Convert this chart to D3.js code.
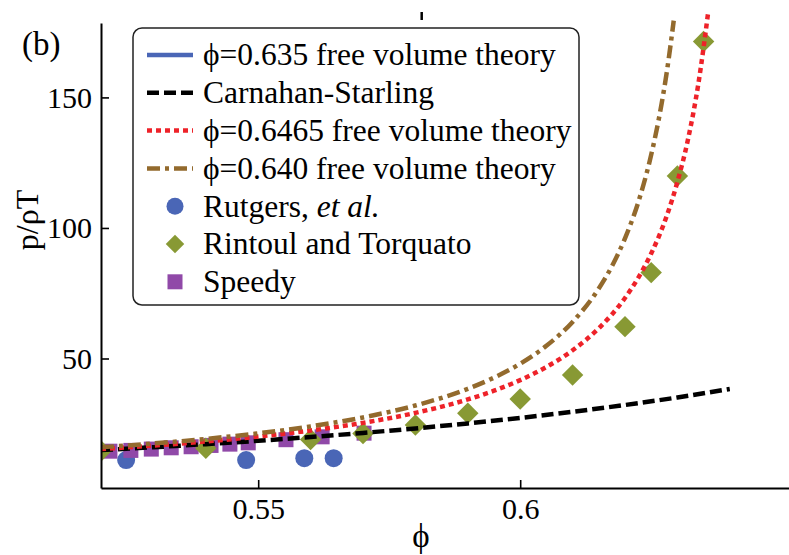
<!DOCTYPE html>
<html>
<head>
<meta charset="utf-8">
<script src="https://cdn.jsdelivr.net/npm/d3@7"></script>
<style>
  html, body { margin: 0; padding: 0; background: #fff; }
  svg { display: block; }
  text { font-family: "Liberation Serif", "DejaVu Serif", serif; fill: #000; }
</style>
</head>
<body>
<svg id="chart" width="789" height="555"></svg>
<script>
// ---------------- DATA ----------------
const xTicks = [0.55, 0.6];
const xTickLabels = ["0.55", "0.6"];
const yTicks = [50, 100, 150];
const yTickLabels = ["50", "100", "150"];

// Carnahan-Starling
const csPhi = [0.52, 0.53, 0.54, 0.55, 0.56, 0.57, 0.58, 0.59, 0.60, 0.61, 0.62, 0.63, 0.64];
const csZ   = [14.92, 16.01, 17.20, 18.50, 19.93, 21.50, 23.23, 25.14, 27.25, 29.59, 32.19, 35.08, 38.31];

// phi = 0.6465 free volume theory
const fv6465Phi = [0.52, 0.53, 0.54, 0.55, 0.56, 0.57, 0.58, 0.59, 0.595, 0.60, 0.605, 0.61, 0.615, 0.6175, 0.62, 0.6225, 0.625, 0.628, 0.63, 0.632, 0.634, 0.6359];
const fv6465Z   = [15.33, 16.65, 18.21, 20.10, 22.42, 25.35, 29.17, 34.33, 37.66, 41.71, 46.74, 53.14, 61.58, 66.88, 73.19, 80.81, 90.20, 104.8, 117.6, 133.7, 155.2, 183.0];

// phi = 0.640 free volume theory
const fv640Phi = [0.52, 0.53, 0.54, 0.55, 0.56, 0.57, 0.58, 0.59, 0.595, 0.60, 0.605, 0.61, 0.615, 0.6175, 0.62, 0.623, 0.625, 0.627, 0.628, 0.6293];
const fv640Z   = [16.0, 17.45, 19.2, 21.33, 24.0, 27.43, 32.0, 38.4, 42.67, 48.0, 54.86, 64.0, 76.8, 85.33, 96.0, 112.9, 128.0, 147.7, 160.0, 179.4];

// Rutgers, et al.
const rutgersPhi = [0.5248, 0.5477, 0.5588, 0.5644];
const rutgersZ   = [11.1, 11.1, 11.8, 11.8];

// Rintoul and Torquato
const rintoulPhi = [0.52, 0.54, 0.56, 0.57, 0.58, 0.59, 0.60, 0.61, 0.62, 0.625, 0.63, 0.635];
const rintoulZ   = [14.6, 15.6, 19.0, 21.3, 24.5, 29.0, 34.5, 43.7, 62.2, 82.9, 119.9, 171.4];

// Speedy
const speedyPhi = [0.5217, 0.5257, 0.5296, 0.5334, 0.5372, 0.5410, 0.5446, 0.5481, 0.5553, 0.5622, 0.5702];
const speedyZ   = [14.5, 14.8, 15.3, 15.8, 16.2, 16.7, 17.2, 17.7, 18.9, 20.0, 21.4];

const legendLabels = [
  "ϕ=0.635 free volume theory",
  "Carnahan-Starling",
  "ϕ=0.6465 free volume theory",
  "ϕ=0.640 free volume theory",
  "Rutgers, ",
  "Rintoul and Torquato",
  "Speedy"
];

// ---------------- STYLES ----------------
const C = {
  blue: "#4a66b6",
  black: "#000000",
  red: "#ee2229",
  brown: "#936a2d",
  olive: "#889934",
  purple: "#9049a8"
};
const LW = 4.5;
const dashCS = "12,5";
const dashRed = "5,4";
const dashBrown = "13,5,4,5";
const SERIF = "Liberation Serif";

// ---------------- LAYOUT ----------------
const svg = d3.select("#chart");
const pL = 101, pR = 789, pT = 23, pB = 488;

const x = d3.scaleLinear().domain([0.52, 0.6513]).range([pL, pR]);
const y = d3.scaleLinear().domain([0.4, 178.5]).range([pB, pT]);

const zip = (a, b) => a.map((v, i) => [v, b[i]]);

// clip
svg.append("defs").append("clipPath").attr("id", "clip")
  .append("rect").attr("x", pL).attr("y", 8).attr("width", pR - pL).attr("height", pB - 8);

const plot = svg.append("g").attr("clip-path", "url(#clip)");

// markers
plot.selectAll("circle.rut").data(zip(rutgersPhi, rutgersZ)).enter()
  .append("circle").attr("class", "rut")
  .attr("cx", d => x(d[0])).attr("cy", d => y(d[1])).attr("r", 9)
  .attr("fill", C.blue);

const sq = 15;
plot.selectAll("rect.sp").data(zip(speedyPhi, speedyZ)).enter()
  .append("rect").attr("class", "sp")
  .attr("x", d => x(d[0]) - sq / 2).attr("y", d => y(d[1]) - sq / 2)
  .attr("width", sq).attr("height", sq)
  .attr("fill", C.purple);

const diamond = d3.symbol().type(d3.symbolSquare).size(230);
plot.selectAll("path.rt").data(zip(rintoulPhi, rintoulZ)).enter()
  .append("path").attr("class", "rt")
  .attr("d", diamond)
  .attr("transform", d => `translate(${x(d[0])},${y(d[1])}) rotate(45)`)
  .attr("fill", C.olive);

// lines
const line = d3.line().x(d => x(d[0])).y(d => y(d[1])).curve(d3.curveMonotoneX);

plot.append("path").datum(zip(csPhi, csZ))
  .attr("d", line).attr("fill", "none")
  .attr("stroke", C.black).attr("stroke-width", LW).attr("stroke-dasharray", dashCS);

plot.append("path").datum(zip(fv6465Phi, fv6465Z))
  .attr("d", line).attr("fill", "none")
  .attr("stroke", C.red).attr("stroke-width", LW).attr("stroke-dasharray", dashRed);

plot.append("path").datum(zip(fv640Phi, fv640Z))
  .attr("d", line).attr("fill", "none")
  .attr("stroke", C.brown).attr("stroke-width", LW).attr("stroke-dasharray", dashBrown);

// axes
const xAxis = d3.axisBottom(x).tickValues(xTicks).tickFormat((d, i) => xTickLabels[i])
  .tickSizeInner(-8).tickSizeOuter(0).tickPadding(10);
const gx = svg.append("g").attr("transform", `translate(0,${pB})`).call(xAxis);
gx.attr("font-family", SERIF);
gx.select(".domain").attr("stroke", "#000").attr("stroke-width", 2);
gx.selectAll(".tick line").attr("stroke", "#000").attr("stroke-width", 1.6);
gx.selectAll(".tick text").attr("font-family", SERIF).attr("font-size", 30).attr("fill", "#000");

const yAxis = d3.axisLeft(y).tickValues(yTicks).tickFormat((d, i) => yTickLabels[i])
  .tickSizeInner(-8).tickSizeOuter(0).tickPadding(9);
const gy = svg.append("g").attr("transform", `translate(${pL},0)`).call(yAxis);
gy.attr("font-family", SERIF);
gy.select(".domain").attr("stroke", "#000").attr("stroke-width", 2);
gy.selectAll(".tick line").attr("stroke", "#000").attr("stroke-width", 1.6);
gy.selectAll(".tick text").attr("font-family", SERIF).attr("font-size", 30).attr("fill", "#000");

// axis labels
svg.append("text").attr("x", 421).attr("y", 547).attr("text-anchor", "middle")
  .attr("font-family", SERIF).attr("font-size", 33).text("ϕ");
svg.append("text").attr("transform", "translate(38,220) rotate(-90)")
  .attr("text-anchor", "middle").attr("font-family", SERIF).attr("font-size", 32).text("p/ρT");
svg.append("text").attr("x", 22).attr("y", 55).attr("font-family", SERIF).attr("font-size", 33).text("(b)");

// stray top mark (stem of a cut-off label above)
svg.append("line").attr("x1", 421.7).attr("x2", 421.7).attr("y1", 12).attr("y2", 20)
  .attr("stroke", "#000").attr("stroke-width", 2.5);

// ---------------- LEGEND ----------------
const lg = svg.append("g");
lg.append("rect").attr("x", 133).attr("y", 28).attr("width", 446).attr("height", 277)
  .attr("rx", 9).attr("ry", 9).attr("fill", "#fff").attr("stroke", "#222").attr("stroke-width", 1.5);

const rowY = i => 55 + i * 37.8;
const hx1 = 147, hx2 = 193, hxc = 170, tx = 203;

const lineHandles = [
  { color: C.blue, dash: null },
  { color: C.black, dash: dashCS },
  { color: C.red, dash: dashRed },
  { color: C.brown, dash: dashBrown }
];
lineHandles.forEach((h, i) => {
  const l = lg.append("line").attr("x1", hx1).attr("x2", hx2)
    .attr("y1", rowY(i)).attr("y2", rowY(i))
    .attr("stroke", h.color).attr("stroke-width", LW);
  if (h.dash) l.attr("stroke-dasharray", h.dash);
});
lg.append("circle").attr("cx", hxc + 5).attr("cy", rowY(4)).attr("r", 8.5).attr("fill", C.blue);
lg.append("path").attr("d", d3.symbol().type(d3.symbolSquare).size(170))
  .attr("transform", `translate(${hxc + 5},${rowY(5)}) rotate(45)`).attr("fill", C.olive);
lg.append("rect").attr("x", hxc + 5 - 7.5).attr("y", rowY(6) - 7.5).attr("width", 15).attr("height", 15)
  .attr("fill", C.purple);

legendLabels.forEach((t, i) => {
  const tt = lg.append("text").attr("x", tx).attr("y", rowY(i)).attr("dy", "0.33em")
    .attr("font-family", SERIF).attr("font-size", 31.5);
  tt.append("tspan").text(t);
  if (i === 4) tt.append("tspan").attr("font-style", "italic").text("et al.");
});
</script>
</body>
</html>
